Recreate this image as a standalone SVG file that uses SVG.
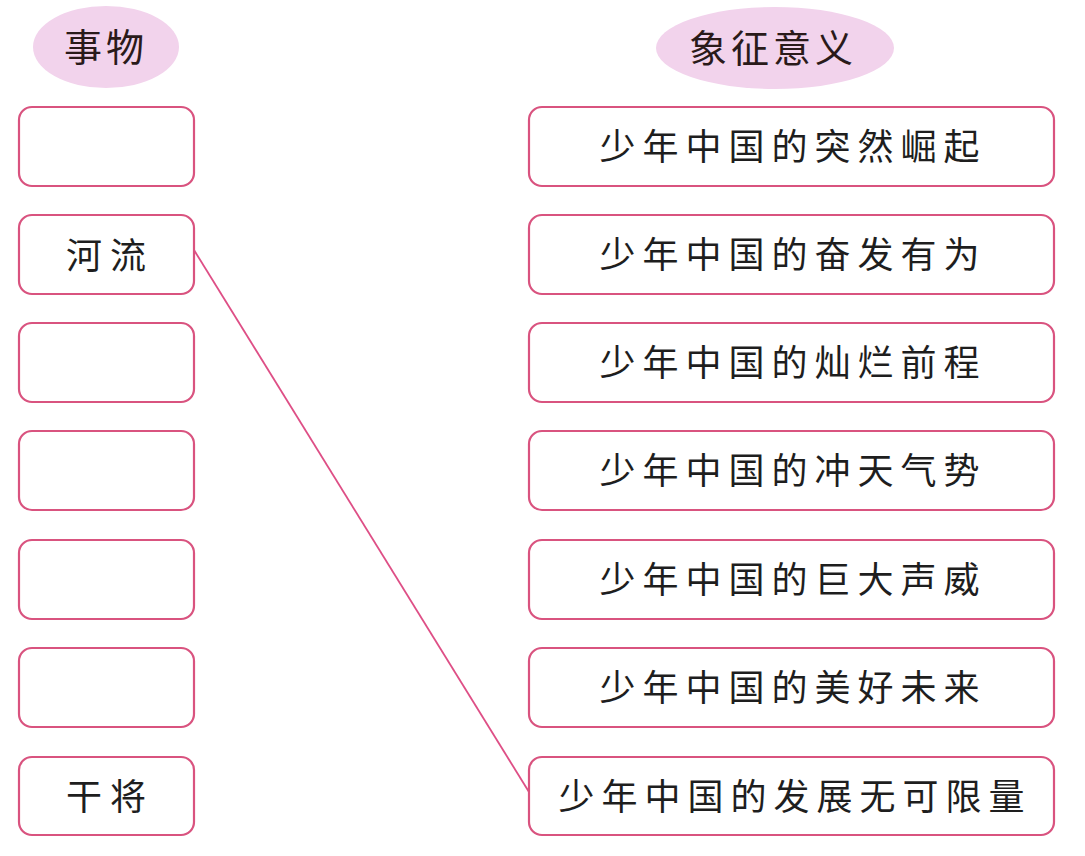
<svg xmlns="http://www.w3.org/2000/svg" width="1085" height="856" viewBox="0 0 1085 856">
<style>
.box{fill:#ffffff;stroke:#d9537f;stroke-width:2.2}
.hdr{fill:#f2d3ec}
.t{font-family:"Noto Sans CJK SC","Noto Sans CJK JP",sans-serif;font-size:36px;fill:#1e1e1e;text-anchor:middle}
.h{font-family:"Noto Sans CJK SC","Noto Sans CJK JP",sans-serif;font-size:38px;fill:#2a1a1a;text-anchor:middle}
.line{stroke:#de4f86;stroke-width:1.8;fill:none}
</style>
<rect width="1085" height="856" fill="#ffffff"/>
<g id="header-left"><ellipse class="hdr" cx="106" cy="47" rx="73" ry="41"/><text class="h" x="106" y="61" letter-spacing="4">事物</text></g>
<g id="header-right"><ellipse class="hdr" cx="775" cy="48" rx="119" ry="41"/><text class="h" x="773" y="62" letter-spacing="4">象征意义</text></g>
<g id="connectors"><line class="line" x1="194" y1="250" x2="529" y2="792"/></g>
<g id="l1"><rect class="box" x="19" y="107" width="175" height="79" rx="13"/></g>
<g id="l2"><rect class="box" x="19" y="215" width="175" height="79" rx="13"/><text class="t" x="110" y="269" letter-spacing="8">河流</text></g>
<g id="l3"><rect class="box" x="19" y="323" width="175" height="79" rx="13"/></g>
<g id="l4"><rect class="box" x="19" y="431" width="175" height="79" rx="13"/></g>
<g id="l5"><rect class="box" x="19" y="540" width="175" height="79" rx="13"/></g>
<g id="l6"><rect class="box" x="19" y="648" width="175" height="79" rx="13"/></g>
<g id="l7"><rect class="box" x="19" y="757" width="175" height="78" rx="13"/><text class="t" x="110" y="810" letter-spacing="8">干将</text></g>
<g id="r1"><rect class="box" x="529" y="107" width="525" height="79" rx="13"/><text class="t" x="793" y="160" letter-spacing="7">少年中国的突然崛起</text></g>
<g id="r2"><rect class="box" x="529" y="215" width="525" height="79" rx="13"/><text class="t" x="793" y="268" letter-spacing="7">少年中国的奋发有为</text></g>
<g id="r3"><rect class="box" x="529" y="323" width="525" height="79" rx="13"/><text class="t" x="793" y="376" letter-spacing="7">少年中国的灿烂前程</text></g>
<g id="r4"><rect class="box" x="529" y="431" width="525" height="79" rx="13"/><text class="t" x="793" y="484" letter-spacing="7">少年中国的冲天气势</text></g>
<g id="r5"><rect class="box" x="529" y="540" width="525" height="79" rx="13"/><text class="t" x="793" y="593" letter-spacing="7">少年中国的巨大声威</text></g>
<g id="r6"><rect class="box" x="529" y="648" width="525" height="79" rx="13"/><text class="t" x="793" y="701" letter-spacing="7">少年中国的美好未来</text></g>
<g id="r7"><rect class="box" x="529" y="757" width="525" height="78" rx="13"/><text class="t" x="795" y="810" letter-spacing="7">少年中国的发展无可限量</text></g>
</svg>
